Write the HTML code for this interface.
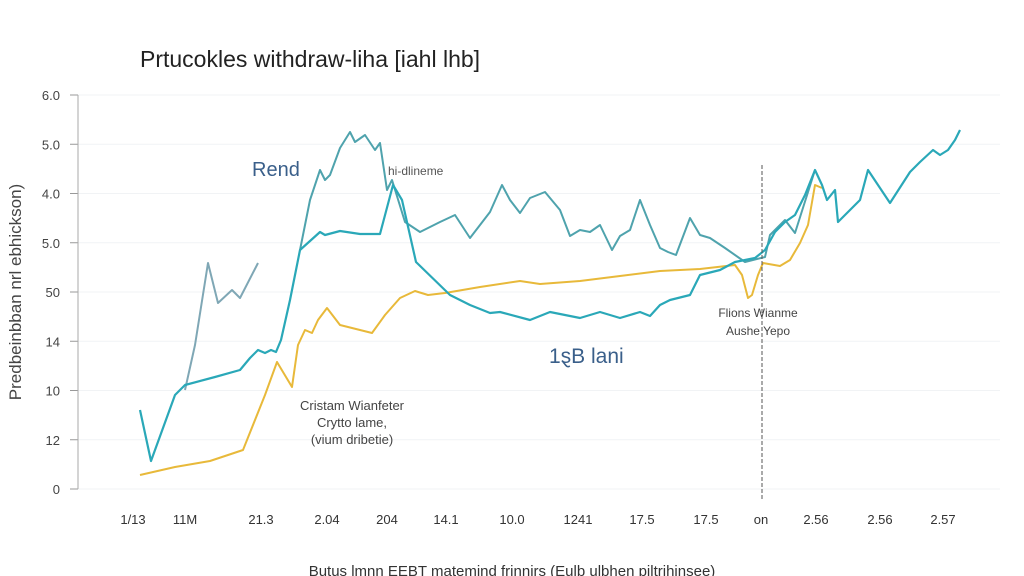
<!DOCTYPE html>
<html><head><meta charset="utf-8"><style>
body{margin:0;background:#fff;}
svg{display:block;font-family:"Liberation Sans",sans-serif;}
</style></head><body>
<svg id="chart" width="1024" height="576" viewBox="0 0 1024 576">
<rect width="1024" height="576" fill="#ffffff"/>
<text x="140" y="67" font-size="23" fill="#222">Prtucokles withdraw-liha [iahl lhb]</text>
<text transform="translate(21,292) rotate(-90)" text-anchor="middle" font-size="17" fill="#444">Predbeinbban nrl ebhickson)</text>
<g id="grid"></g><g id="axis"></g><g id="series"></g>
<line x1="762" y1="165" x2="762" y2="500" stroke="#555" stroke-width="1" stroke-dasharray="4,2"/>
<text x="252" y="176" font-size="20" fill="#3a5f8a">Rend</text>
<text x="388" y="175" font-size="12" fill="#555">hi-dlineme</text>
<text x="549" y="363" font-size="21" fill="#3a5f8a">1ȿB lani</text>
<text x="352" y="410" text-anchor="middle" font-size="13" fill="#444">Cristam Wianfeter</text>
<text x="352" y="427" text-anchor="middle" font-size="13" fill="#444">Crytto lame,</text>
<text x="352" y="444" text-anchor="middle" font-size="13" fill="#444">(vium dribetie)</text>
<text x="758" y="317" text-anchor="middle" font-size="12" fill="#444">Flions Wianme</text>
<text x="758" y="335" text-anchor="middle" font-size="12" fill="#444">Aushe Yepo</text>
<text x="512" y="576" text-anchor="middle" font-size="15" fill="#333">Butus lmnn EEBT matemind frinnirs (Eulb ulbhen piltrihinsee)</text>
</svg>
<script>
const yTickVals=[0,4.925,9.85,14.775,19.7,24.625,29.55,34.475,39.4];
const yTickLabels=["0","12","10","14","50","5.0","4.0","5.0","6.0"];
const xTickVals=[-1.4,9,24.2,37.4,49.4,61.2,74.4,87.6,100.4,113.2,124.2,135.2,148,160.6];
const xTickLabels=["1/13","11\u039C","21.3","2.04","204","14.1","10.0","1241","17.5","17.5","on","2.56","2.56","2.57"];
const aX=[0,2.2,7,9,15,20,22,23.6,25,26.2,27.2,28.2,30,32,36,37,40,44,48,50.6,52.4,55.2,62,66,70,72,78,82,88,92,96,100,102,104,106,110,112,116,119,123,125,127,129,131,133,135,136.4,137.4,139,139.6,142,144,145.6,148,150,154,156,158.6,160,161.6,163,164];
const aV=[7.9,2.8,9.4,10.4,11.2,11.9,13.1,13.9,13.6,13.9,13.7,14.9,18.9,23.9,25.7,25.4,25.8,25.5,25.5,30.4,28.9,22.7,19.4,18.4,17.6,17.7,16.9,17.7,17.1,17.7,17.1,17.7,17.3,18.4,18.9,19.4,21.4,21.9,22.7,23.1,23.9,25.7,26.7,27.4,29.4,31.9,30.4,28.9,29.9,26.7,27.9,28.9,31.9,30.1,28.6,31.7,32.7,33.9,33.4,33.9,34.9,35.9];
const bX=[32,34,36,37,38,40,41,42,43,45,47,48,49.4,50.4,53,56,60,63,66,70,72.4,74,76,78,81,84,86,88,90,92,94.4,96,98,100,102,104,105.6,107.2,110,112,114,117,121,125,126,129,131,135];
const bV=[23.9,28.9,31.9,30.9,31.4,34.1,34.9,35.7,34.7,35.4,33.9,34.6,29.9,30.9,26.7,25.7,26.7,27.4,25.1,27.7,30.4,28.9,27.6,29.1,29.7,27.9,25.3,25.9,25.7,26.4,23.9,25.3,25.9,28.9,26.4,24.1,23.7,23.4,27.1,25.4,25.1,24.1,22.7,23.2,25.4,26.9,25.6,31.9];
const cX=[9,11,13.6,15.6,18.4,20,23.6];
const cV=[9.9,14.4,22.6,18.6,19.9,19.1,22.6];
const dX=[0,7,14,20.6,25,27.4,30.4,31.6,33,34.4,35.6,37.4,40,44,46.4,49,52,55,57.6,61,68,76,80,88,96,104,112,119,120.4,121.6,122.4,123.6,124.6,128,130,132,133.6,135,136.4];
const dV=[1.4,2.2,2.8,3.9,9.4,12.7,10.2,14.4,15.9,15.6,16.9,18.1,16.4,15.9,15.6,17.4,19.1,19.8,19.4,19.6,20.2,20.8,20.5,20.8,21.3,21.8,22,22.4,21.4,19.1,19.4,21.4,22.6,22.3,22.9,24.6,26.4,30.4,30.1];
const X=d=>140+d*5, Y=v=>489-v*10;
const NS="http://www.w3.org/2000/svg";
function mk(tag,attrs,parent){const e=document.createElementNS(NS,tag);for(const k in attrs)e.setAttribute(k,attrs[k]);document.getElementById(parent).appendChild(e);return e;}
yTickVals.forEach((v,i)=>{
  const g=mk('line',{x1:78,x2:1000,y1:Y(v),y2:Y(v),stroke:'#f1f3f5','stroke-width':1},'grid');
  
  
  const t=mk('line',{x1:70,x2:78,y1:Y(v),y2:Y(v),stroke:'#999'},'axis');
  
  
  const l=mk('text',{x:60,y:Y(v)+5,'text-anchor':'end','font-size':13,fill:'#444'},'axis');
  l.textContent=yTickLabels[i];
  
  
});
const ax=mk('line',{x1:78,x2:78,y1:Y(39.4),y2:Y(0),stroke:'#aaa'},'axis');


xTickVals.forEach((d,i)=>{
  const l=mk('text',{x:X(d),y:524,'text-anchor':'middle','font-size':13,fill:'#333'},'axis');
  l.textContent=xTickLabels[i];
  
  
});
function line(xs,vs,color,name,w){
  const p=mk('polyline',{points:xs.map((d,i)=>X(d)+','+Y(vs[i])).join(' '),fill:'none',stroke:color,'stroke-width':w,'stroke-linejoin':'round'},'series');
  
  
}
line(cX,cV,'#7fa7b5','series-gray-early',2);
line(dX,dV,'#e8b93a','series-yellow',2);
line(bX,bV,'#4fa3ad','series-upper-teal',2);
line(aX,aV,'#2aa8b8','series-main-teal',2.2);
</script>
</body></html>
